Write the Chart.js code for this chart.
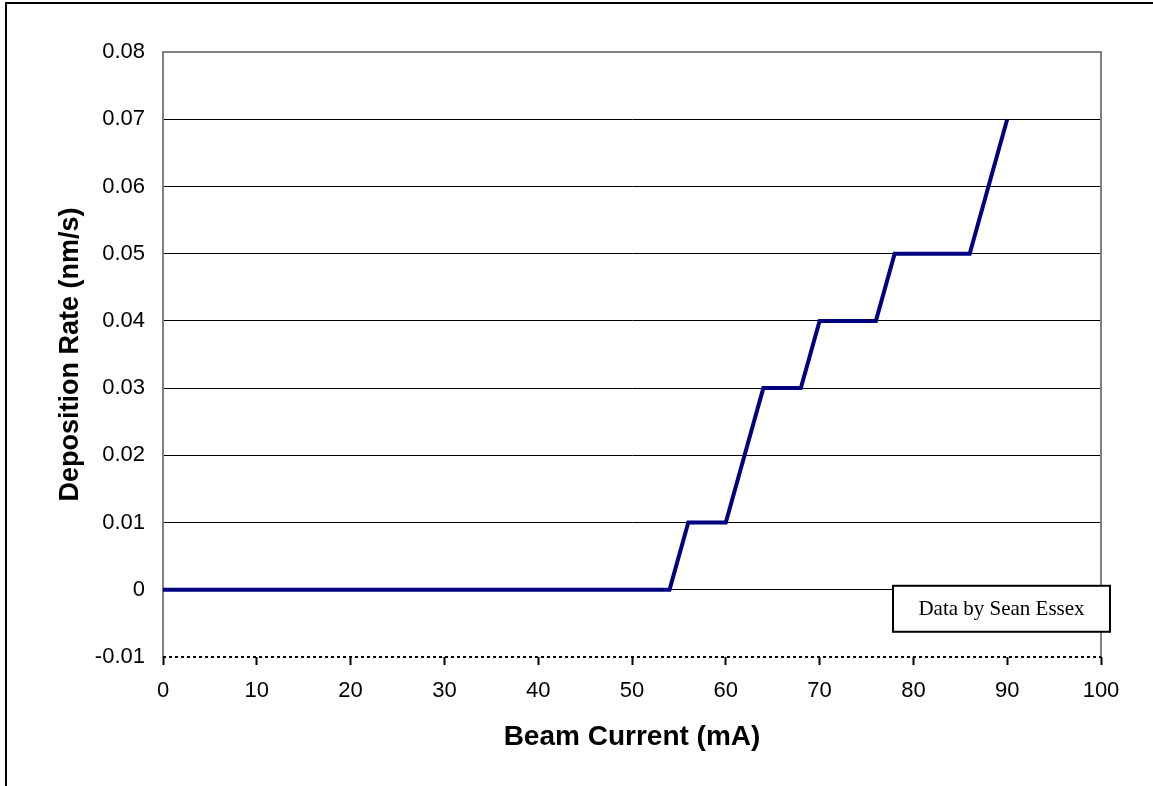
<!DOCTYPE html>
<html>
<head>
<meta charset="utf-8">
<script src="https://cdn.jsdelivr.net/npm/chart.js@4/dist/chart.umd.min.js"></script>
<style>
  html, body { margin: 0; padding: 0; background: #fff; overflow: hidden; }
  #wrap { position: relative; width: 1153px; height: 786px; }
  #frame { position: absolute; left: 5px; top: 2px; width: 3000px; height: 3000px;
           border-left: 2px solid #000; border-top: 2px solid #000; pointer-events: none; }
  canvas { position: absolute; left: 0; top: 0; }
</style>
</head>
<body>
<div id="wrap">
  <canvas id="c" width="1153" height="786"></canvas>
  <div id="frame"></div>
</div>
<script>
// Data
const beamCurrent = [0, 54, 56, 60, 62, 64, 68, 70, 76, 78, 86, 88, 90];
const depositionRate = [0, 0, 0.01, 0.01, 0.02, 0.03, 0.03, 0.04, 0.04, 0.05, 0.05, 0.06, 0.07];
const xTicks = [0, 10, 20, 30, 40, 50, 60, 70, 80, 90, 100];
const yTicks = [-0.01, 0, 0.01, 0.02, 0.03, 0.04, 0.05, 0.06, 0.07, 0.08];
const xTitle = 'Beam Current (mA)';
const yTitle = 'Deposition Rate (nm/s)';
const noteText = 'Data by Sean Essex';

const points = beamCurrent.map((x, i) => ({ x: x, y: depositionRate[i] }));
const FONT = '"Liberation Sans", Arial, sans-serif';

const notePlugin = {
  id: 'note',
  beforeDatasetsDraw(chart) {
    const ca = chart.chartArea;
    const ctx = chart.ctx;
    ctx.save();
    // right frame edge (grey)
    ctx.strokeStyle = '#808080';
    ctx.lineWidth = 2;
    ctx.setLineDash([]);
    ctx.beginPath();
    ctx.moveTo(ca.right, ca.top - 1);
    ctx.lineTo(ca.right, ca.bottom);
    ctx.stroke();
    // dashed x axis line
    ctx.strokeStyle = '#000';
    ctx.lineWidth = 2;
    ctx.setLineDash([3, 3]);
    ctx.beginPath();
    ctx.moveTo(ca.left, ca.bottom);
    ctx.lineTo(ca.right, ca.bottom);
    ctx.stroke();
    ctx.restore();
  },
  afterDraw(chart) {
    const ca = chart.chartArea;
    const ctx = chart.ctx;
    const w = 217, h = 46;
    const x = ca.right + 9 - w;
    const y = chart.scales.y.getPixelForValue(0) - 4;
    ctx.save();
    ctx.fillStyle = '#fff';
    ctx.fillRect(x, y, w, h);
    ctx.lineWidth = 2;
    ctx.strokeStyle = '#000';
    ctx.setLineDash([]);
    ctx.strokeRect(x, y, w, h);
    ctx.fillStyle = '#000';
    ctx.font = '21px "Liberation Serif", "Times New Roman", serif';
    ctx.textAlign = 'center';
    ctx.textBaseline = 'middle';
    ctx.fillText(noteText, x + w / 2, y + h / 2 + 1);
    ctx.restore();
  }
};

new Chart(document.getElementById('c'), {
  type: 'line',
  data: {
    datasets: [{
      data: points,
      borderColor: '#000080',
      borderWidth: 4,
      pointRadius: 0,
      fill: false,
      tension: 0
    }]
  },
  options: {
    responsive: false,
    animation: false,
    devicePixelRatio: 1,
    layout: { padding: { left: 0, right: 52, top: 52, bottom: 0 } },
    plugins: { legend: { display: false }, tooltip: { enabled: false } },
    scales: {
      x: {
        type: 'linear',
        min: 0, max: 100,
        afterBuildTicks(scale) { scale.ticks = xTicks.map(v => ({ value: v })); },
        afterFit(scale) { scale.height = 129; },
        ticks: {
          color: '#000',
          font: { family: FONT, size: 22 },
          padding: 13,
          maxRotation: 0,
          autoSkip: false
        },
        grid: {
          drawOnChartArea: false,
          drawTicks: true,
          tickLength: 8,
          tickColor: '#000',
          tickWidth: 2
        },
        border: { display: false },
        title: {
          display: true,
          text: xTitle,
          color: '#000',
          font: { family: FONT, size: 28, weight: 'bold' },
          padding: { top: 0, bottom: 32 }
        }
      },
      y: {
        min: -0.01, max: 0.08,
        afterBuildTicks(scale) { scale.ticks = yTicks.map(v => ({ value: v })); },
        afterFit(scale) { scale.width = 163; },
        ticks: {
          color: '#000',
          font: { family: FONT, size: 22 },
          padding: 18,
          callback: v => String(Number(v.toFixed(2)))
        },
        grid: {
          drawTicks: false,
          color: ctx => {
            const v = ctx.tick ? Math.round(ctx.tick.value * 100) : 0;
            if (v === 8) return '#808080';
            if (v === -1) return 'rgba(0,0,0,0)';
            return '#000';
          },
          lineWidth: ctx => {
            const v = ctx.tick ? Math.round(ctx.tick.value * 100) : 0;
            return v === 8 ? 2 : 1;
          }
        },
        border: { display: true, color: '#808080', width: 2 },
        title: {
          display: true,
          text: yTitle,
          color: '#000',
          font: { family: FONT, size: 27, weight: 'bold' },
          padding: { top: 54, bottom: 0 }
        }
      }
    }
  },
  plugins: [notePlugin]
});
</script>
</body>
</html>
